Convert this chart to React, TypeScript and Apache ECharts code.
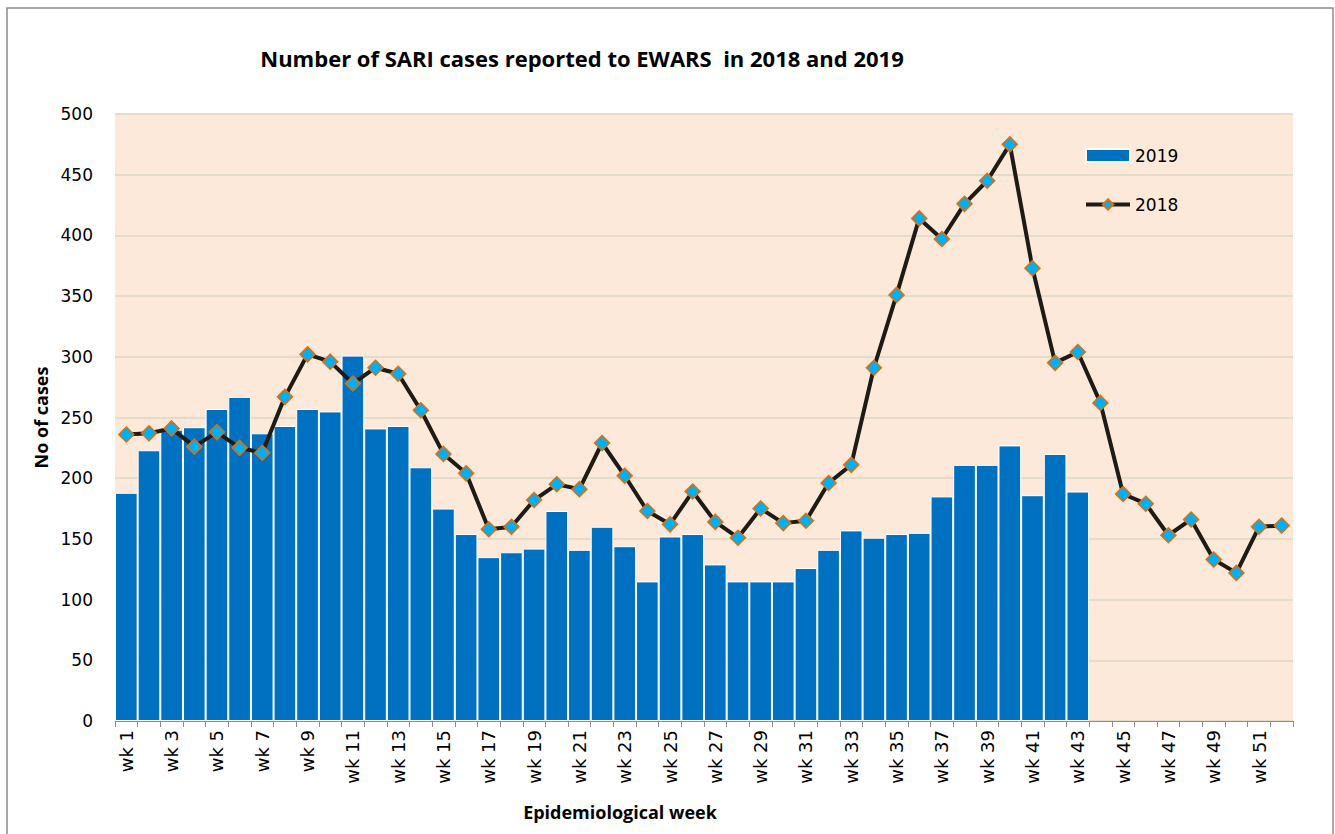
import React, { useEffect, useRef } from "react";
import * as echarts from "echarts";

const weeks: string[] = Array.from({ length: 52 }, (_, i) => `wk ${i + 1}`);

const cases2019: number[] = [
  188, 223, 240, 242, 257, 267, 237, 243, 257, 255,
  301, 241, 243, 209, 175, 154, 135, 139, 142, 173,
  141, 160, 144, 115, 152, 154, 129, 115, 115, 115,
  126, 141, 157, 151, 154, 155, 185, 211, 211, 227,
  186, 220, 189,
];

const cases2018: number[] = [
  236, 237, 241, 226, 238, 225, 221, 267, 302, 296,
  278, 291, 286, 256, 220, 204, 158, 160, 182, 195,
  191, 229, 202, 173, 162, 189, 164, 151, 175, 163,
  165, 196, 211, 291, 351, 414, 397, 426, 445, 475,
  373, 295, 304, 262, 187, 179, 153, 166, 133, 122,
  160, 161,
];

const titleText = "Number of SARI cases reported to EWARS  in 2018 and 2019";
const xTitle = "Epidemiological week";
const yTitle = "No of cases";

export default function App() {
  const ref = useRef<HTMLDivElement>(null);

  useEffect(() => {
    document.body.style.margin = "0";
    const chart = echarts.init(ref.current!, null, { renderer: "svg" });
    chart.setOption({
      animation: false,
      backgroundColor: "#ffffff",
      graphic: [
        {
          type: "rect",
          shape: { x: 7, y: 8, width: 1326, height: 840 },
          style: { fill: "none", stroke: "#8c8c8c", lineWidth: 1.5 },
          silent: true,
        },
        {
          type: "text",
          x: 582,
          y: 58,
          style: {
            text: titleText,
            fontFamily: "Open Sans",
            fontWeight: "bold",
            fontSize: 22,
            fill: "#000",
            align: "center",
            verticalAlign: "middle",
          },
        },
        {
          type: "text",
          x: 620,
          y: 812,
          style: {
            text: xTitle,
            fontFamily: "Open Sans",
            fontWeight: "bold",
            fontSize: 18,
            fill: "#000",
            align: "center",
            verticalAlign: "middle",
          },
        },
      ],
      grid: {
        left: 115,
        right: 42,
        top: 114,
        bottom: 113,
        show: true,
        backgroundColor: "#FCE9DA",
        borderWidth: 0,
      },
      legend: {
        orient: "vertical",
        left: 1079,
        top: 142,
        itemWidth: 44,
        itemHeight: 13,
        itemGap: 32,
        textStyle: { fontFamily: "DejaVu Sans", fontSize: 17, color: "#000" },
        data: [
          { name: "2019", icon: "rect" },
          { name: "2018", lineStyle: { width: 4 } },
        ],
      },
      xAxis: {
        type: "category",
        data: weeks,
        boundaryGap: true,
        axisLine: { show: true, lineStyle: { color: "#8c8c8c", width: 1 } },
        axisTick: {
          show: true,
          alignWithLabel: false,
          interval: 0,
          length: 6,
          lineStyle: { color: "#8c8c8c" },
        },
        axisLabel: {
          interval: 1,
          rotate: 90,
          margin: 9,
          fontFamily: "DejaVu Sans",
          fontSize: 18,
          color: "#000",
        },
        splitLine: { show: false },
      },
      yAxis: {
        type: "value",
        min: 0,
        max: 500,
        interval: 50,
        name: yTitle,
        nameLocation: "middle",
        nameRotate: 90,
        nameGap: 64,
        nameTextStyle: {
          fontFamily: "Open Sans",
          fontWeight: "bold",
          fontSize: 18,
          color: "#000",
        },
        axisLine: { show: false },
        axisTick: { show: false },
        axisLabel: {
          margin: 22,
          fontFamily: "DejaVu Sans",
          fontSize: 17,
          color: "#000",
        },
        splitLine: { show: true, lineStyle: { color: "#DDD6C3", width: 1.5 } },
      },
      series: [
        {
          name: "2019",
          type: "bar",
          data: cases2019,
          barCategoryGap: "0%",
          itemStyle: { color: "#0070C0", borderColor: "#ffffff", borderWidth: 1 },
        },
        {
          name: "2018",
          type: "line",
          data: cases2018,
          symbol: "diamond",
          symbolSize: 15,
          lineStyle: { color: "#1E1A14", width: 4 },
          itemStyle: { color: "#00B0F0", borderColor: "#E46C0A", borderWidth: 1.5 },
          z: 3,
        },
      ],
    });
    return () => chart.dispose();
  }, []);

  return <div ref={ref} style={{ width: 1335, height: 834 }} />;
}
